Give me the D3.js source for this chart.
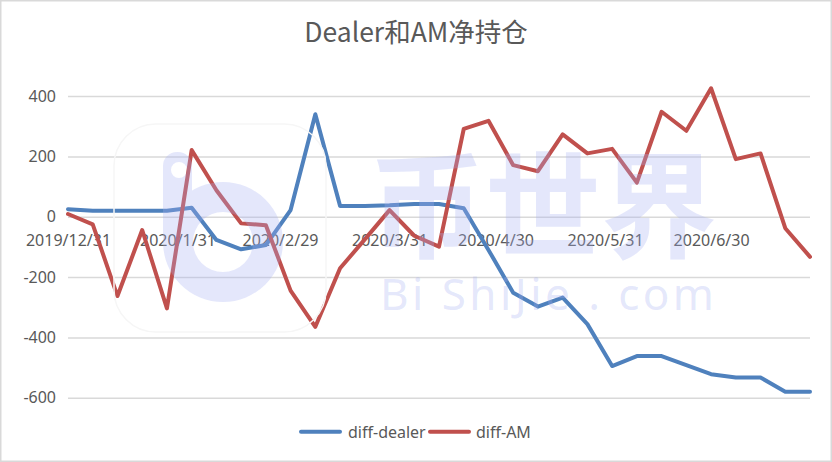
<!DOCTYPE html>
<html>
<head>
<meta charset="utf-8">
<script src="https://cdn.jsdelivr.net/npm/d3@7/dist/d3.min.js"></script>
<style>
html,body{margin:0;padding:0;background:#fff;}
svg{display:block;}
</style>
</head>
<body>
<svg id="chart" width="832" height="462"></svg>
<script>
const dates = ["2019-12-31","2020-01-07","2020-01-14","2020-01-21","2020-01-28","2020-02-04","2020-02-11","2020-02-18","2020-02-25","2020-03-03","2020-03-10","2020-03-17","2020-03-24","2020-03-31","2020-04-07","2020-04-14","2020-04-21","2020-04-28","2020-05-05","2020-05-12","2020-05-19","2020-05-26","2020-06-02","2020-06-09","2020-06-16","2020-06-23","2020-06-30","2020-07-07","2020-07-14","2020-07-21","2020-07-28"];
const diffDealer = [25,20,20,20,20,30,-77,-108,-94,22,340,36,36,38,42,42,28,-110,-252,-298,-268,-356,-495,-462,-462,-492,-522,-533,-533,-580,-580];
const diffAM = [9,-25,-263,-44,-304,221,88,-22,-28,-245,-365,-171,-75,22,-63,-99,291,318,171,151,273,210,225,113,348,285,426,191,210,-38,-133];
const xTickDates = ["2019-12-31","2020-01-31","2020-02-29","2020-03-31","2020-04-30","2020-05-31","2020-06-30"];
const xTickLabels = ["2019/12/31","2020/1/31","2020/2/29","2020/3/31","2020/4/30","2020/5/31","2020/6/30"];
const yTicks = [-600,-400,-200,0,200,400];
const seriesNames = ["diff-dealer","diff-AM"];
const seriesColors = ["#4F81BD","#C0504D"];

const parse = d3.utcParse("%Y-%m-%d");
const svg = d3.select("#chart");
const W = 832, H = 462;
const plot = {left:68, right:810, top:96.1, bottom:397.7};

// border
svg.append("rect").attr("x",0.75).attr("y",0.75).attr("width",W-1.5).attr("height",H-1.5)
  .attr("fill","#fff").attr("stroke","#d9d9d9").attr("stroke-width",1.5);

const x = d3.scaleUtc().domain([parse(dates[0]), parse(dates[dates.length-1])]).range([plot.left, plot.right]);
const y = d3.scaleLinear().domain([-600,400]).range([plot.bottom, plot.top]);

// gridlines
const yAxis = d3.axisLeft(y).tickValues(yTicks).tickSize(-(plot.right-plot.left)).tickPadding(12).tickFormat(d=>String(d));
const gy = svg.append("g").attr("transform",`translate(${plot.left},0)`).call(yAxis);
gy.select(".domain").remove();
gy.selectAll(".tick line").attr("stroke","#d9d9d9").attr("stroke-width",1.5);
gy.selectAll(".tick text").attr("fill","#595959").attr("font-family","'Noto Sans',sans-serif").attr("font-size",16).attr("x",-12);

// x axis labels at zero line
const xAxis = d3.axisBottom(x).tickValues(xTickDates.map(parse)).tickSize(0).tickPadding(0)
  .tickFormat((d,i)=>xTickLabels[i]);
const gx = svg.append("g").attr("transform",`translate(0,${y(0)})`).call(xAxis);
gx.select(".domain").remove();
gx.selectAll(".tick text").attr("fill","#595959").attr("font-family","'Noto Sans',sans-serif").attr("font-size",16)
  .attr("y",29).attr("dy",0);

// lines
const series = [diffDealer, diffAM];
const line = d3.line().x((d,i)=>x(parse(dates[i]))).y(d=>y(d));
series.forEach((s,k)=>{
  svg.append("path").datum(s).attr("d",line).attr("fill","none")
    .attr("stroke",seriesColors[k]).attr("stroke-width",4)
    .attr("stroke-linejoin","round").attr("stroke-linecap","round");
});

// title
svg.append("text").attr("x",416).attr("y",42).attr("text-anchor","middle")
  .attr("font-family","'Noto Sans CJK SC','Noto Sans',sans-serif").attr("font-size",26.5)
  .attr("fill","#595959").text("Dealer和AM净持仓");

// legend
const legendItems = [{x:299, tx:348},{x:428, tx:476}];
legendItems.forEach((it,k)=>{
  svg.append("line").attr("x1",it.x+2).attr("x2",it.x+41).attr("y1",431.7).attr("y2",431.7)
    .attr("stroke",seriesColors[k]).attr("stroke-width",4).attr("stroke-linecap","round");
  svg.append("text").attr("x",it.tx).attr("y",437.5).attr("font-family","'Noto Sans',sans-serif")
    .attr("font-size",16).attr("fill","#595959").text(seriesNames[k]);
});

// watermark overlay
const wm = svg.append("g").attr("pointer-events","none");
wm.append("rect").attr("x",114).attr("y",124).attr("width",212).attr("height",208).attr("rx",42)
  .attr("fill","none").attr("stroke","#f6f6f6").attr("stroke-width",1.5);
const p = d3.path();
p.moveTo(283,242); p.arc(223,242,60,0,2*Math.PI,false);
p.moveTo(163,242); p.lineTo(163,166); p.arcTo(163,152,177,152,14); p.lineTo(178,152);
p.arcTo(192,152,192,166,14); p.lineTo(192,242); p.closePath();
p.moveTo(253,242); p.arc(223,242,30,0,-2*Math.PI,true);
p.moveTo(187,170); p.arc(179,170,8,0,-2*Math.PI,true);
wm.append("path").attr("d",p.toString()).attr("fill","#a5aff1").attr("fill-opacity",0.3).attr("fill-rule","nonzero");
wm.append("text").attr("x",369).attr("y",249).attr("font-family","'Noto Sans CJK SC',sans-serif")
  .attr("font-size",116).attr("font-weight",700).attr("fill","#a5aff1").attr("fill-opacity",0.3).text("币世界");
wm.append("text").attr("x",380).attr("y",310).attr("font-family","'Noto Sans',sans-serif")
  .attr("font-size",44).attr("fill","#a5aff1").attr("fill-opacity",0.3)
  .attr("textLength",334).attr("lengthAdjust","spacing").text("Bi ShiJie . com");
</script>
</body>
</html>
